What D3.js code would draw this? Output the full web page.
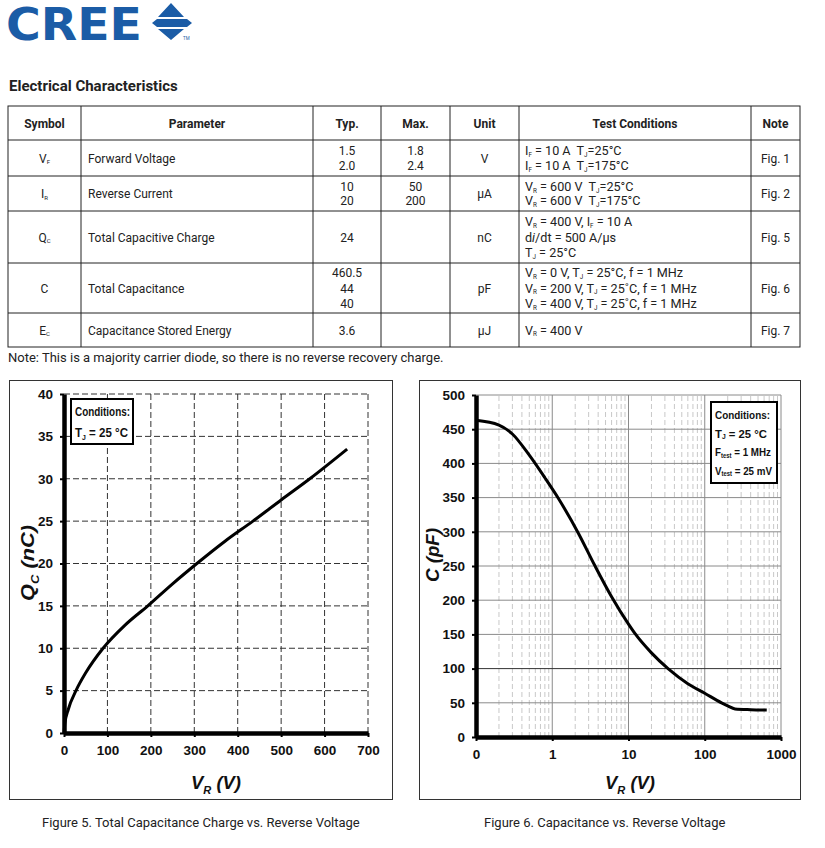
<!DOCTYPE html>
<html><head><meta charset="utf-8">
<script src="https://cdn.jsdelivr.net/npm/d3@7"></script>
<style>
html,body{margin:0;padding:0;background:#fff;}
svg{display:block;}
text{white-space:pre;}
</style></head>
<body>
<svg id="page" width="825" height="848"></svg>
<script>
// ---------------- DATA ----------------
const tableHeaders = ["Symbol","Parameter","Typ.","Max.","Unit","Test Conditions","Note"];
const symbols = ["V{F}","I{R}","Q{C}","C","E{C}"];
const parameters = ["Forward Voltage","Reverse Current","Total Capacitive Charge","Total Capacitance","Capacitance Stored Energy"];
const typValues = [["1.5","2.0"],["10","20"],["24"],["460.5","44","40"],["3.6"]];
const maxValues = [["1.8","2.4"],["50","200"],[],[],[]];
const units = ["V","μA","nC","pF","μJ"];
const conditions = [
  ["I{F} = 10 A  T{J}=25°C","I{F} = 10 A  T{J}=175°C"],
  ["V{R} = 600 V  T{J}=25°C","V{R} = 600 V  T{J}=175°C"],
  ["V{R} = 400 V, I{F} = 10 A","d[i]/dt = 500 A/μs","T{J} = 25°C"],
  ["V{R} = 0 V, T{J} = 25°C, f = 1 MHz","V{R} = 200 V, T{J} = 25˚C, f = 1 MHz","V{R} = 400 V, T{J} = 25˚C, f = 1 MHz"],
  ["V{R} = 400 V"]
];
const notes = ["Fig. 1","Fig. 2","Fig. 5","Fig. 6","Fig. 7"];
const noteText = "Note: This is a majority carrier diode, so there is no reverse recovery charge.";

// Figure 5: Qc vs VR
const qcVoltage = [0, 2, 10, 27.6, 50, 90, 140, 193, 250, 306, 370, 435, 500, 566, 652];
const qcCharge  = [0, 1.1, 2.8, 5, 7.1, 10, 12.7, 15, 17.6, 20, 22.6, 25, 27.5, 30, 33.5];
const qcXTicks = [0,100,200,300,400,500,600,700];
const qcYTicks = [0,5,10,15,20,25,30,35,40];

// Figure 6: C vs VR (log)
const cVoltage = [0.1, 0.2, 0.3, 0.5, 0.8, 1.2, 2.2, 3.6, 6, 10, 12.2, 20, 33, 60, 100, 166, 200, 250, 400, 650];
const cCap     = [463, 456, 443, 412, 379, 349, 298, 251, 205, 165, 151, 123, 100, 78, 64, 50, 45.5, 41, 40, 39.5];
const cXTicks = [0.1, 1, 10, 100, 1000];
const cXTickLabels = ["0","1","10","100","1000"];
const cYTicks = [0,50,100,150,200,250,300,350,400,450,500];

const caption5 = "Figure 5. Total Capacitance Charge vs. Reverse Voltage";
const caption6 = "Figure 6. Capacitance vs. Reverse Voltage";

// ---------------- HELPERS ----------------
const svg = d3.select("#page");
svg.append("rect").attr("width",825).attr("height",848).attr("fill","#fff");

const ROBOTO = "Roboto, 'Noto Sans', sans-serif";
const NARROW = "'Liberation Sans', Arial, sans-serif";

// rich text: X{sub} -> subscript, [x] -> italic
function rich(parent, x, y, str, o) {
  o = o || {};
  const fs = o.size || 12;
  const t = parent.append("text").attr("x", x).attr("y", y)
    .attr("font-family", o.family || ROBOTO).attr("font-size", fs)
    .attr("font-weight", o.weight || "normal")
    .attr("font-style", o.style || "normal")
    .attr("fill", o.fill || "#222")
    .attr("text-anchor", o.anchor || "start");
  if (o.len) t.attr("textLength", o.len).attr("lengthAdjust","spacingAndGlyphs");
  const re = /(\{[^}]*\}|\[[^\]]*\])/g;
  const parts = str.split(re).filter(s => s.length);
  let shifted = 0;
  parts.forEach(p => {
    if (p[0] === "{") {
      const sh = fs*(o.subShift||0.3);
      t.append("tspan").text(p.slice(1,-1)).attr("font-size", fs*(o.subScale||0.55)).attr("dy", sh);
      shifted = sh;
    } else {
      const ts = t.append("tspan").text(p);
      if (shifted) { ts.attr("dy", -shifted); shifted = 0; }
      if (p[0] === "[") { ts.text(p.slice(1,-1)).attr("font-style","italic"); }
    }
  });
  return t;
}

// ---------------- LOGO ----------------
const logoBlue = "#1b5ca6";
svg.append("text").attr("x",6).attr("y",40).text("CREE")
  .attr("font-family","'DejaVu Sans',sans-serif").attr("font-weight","bold")
  .attr("font-size",44).attr("fill",logoBlue)
  .attr("textLength",136).attr("lengthAdjust","spacingAndGlyphs");
svg.append("path").attr("fill",logoBlue)
  .attr("d","M171,3 L184,17 L158,17 Z M152,23 L157,19 L187,19 L192,23 L187,27 L157,27 Z M158,29 L184,29 L171,40 Z");
svg.append("text").attr("x",183).attr("y",40).text("TM").attr("font-size",4.5)
  .attr("font-family",ROBOTO).attr("fill",logoBlue);

// ---------------- TITLE ----------------
svg.append("text").attr("x",9).attr("y",91).text("Electrical Characteristics")
  .attr("font-family",ROBOTO).attr("font-weight","bold").attr("font-size",15).attr("fill","#222");

// ---------------- TABLE ----------------
const colX = [8, 81, 313, 381, 450, 519, 751, 800];
const rowY = [106, 140, 176, 211, 263, 313, 347];
const tbl = svg.append("g");
tbl.append("rect").attr("x",colX[0]).attr("y",rowY[0]).attr("width",colX[7]-colX[0]).attr("height",rowY[6]-rowY[0])
  .attr("fill","none").attr("stroke","#222").attr("stroke-width",1);
colX.slice(1,-1).forEach(x => tbl.append("line").attr("x1",x).attr("x2",x).attr("y1",rowY[0]).attr("y2",rowY[6]).attr("stroke","#222"));
rowY.slice(1,-1).forEach(y => tbl.append("line").attr("x1",colX[0]).attr("x2",colX[7]).attr("y1",y).attr("y2",y).attr("stroke","#222"));

const colCenter = i => (colX[i] + colX[i+1]) / 2;
tableHeaders.forEach((h,i) => {
  tbl.append("text").attr("x",colCenter(i)).attr("y",128).text(h).attr("text-anchor","middle")
    .attr("font-family",ROBOTO).attr("font-weight","bold").attr("font-size",12).attr("fill","#222");
});
function block(lines, cx, cy, anchor, x, size) {
  const n = lines.length;
  const lineH = n > 2 ? 15.3 : 14.5;
  lines.forEach((l, k) => {
    const yy = cy + (k - (n-1)/2) * lineH + 4.5;
    rich(tbl, anchor === "middle" ? cx : x, yy, l, {anchor: anchor, size: size || 12, subScale: 0.5, subShift: 0.15});
  });
}
symbols.forEach((s, r) => {
  const cy = (rowY[r+1] + rowY[r+2]) / 2;
  block([s], colCenter(0), cy, "middle");
  block([parameters[r]], 0, cy, "start", 88);
  block(typValues[r], colCenter(2), cy, "middle");
  if (maxValues[r].length) block(maxValues[r], colCenter(3), cy, "middle");
  block([units[r]], colCenter(4), cy, "middle");
  block(conditions[r], 0, cy, "start", 525, 12.6);
  block([notes[r]], colCenter(6), cy, "middle");
});

svg.append("text").attr("x",8).attr("y",362).text(noteText)
  .attr("font-family",ROBOTO).attr("font-size",13).attr("fill","#222");

function styleAxis(a) {
  a.select(".domain").attr("stroke","#000").attr("stroke-width",4.5);
  a.selectAll(".tick line").attr("stroke","#000").attr("stroke-width",2);
  a.selectAll(".tick text").attr("font-family",NARROW).attr("font-weight","bold").attr("font-size",13.5).attr("fill","#111");
}

// ---------------- FIGURE 5 ----------------
(function(){
  const g = svg.append("g");
  g.append("rect").attr("x",9.5).attr("y",380.5).attr("width",383).attr("height",419)
    .attr("fill","none").attr("stroke","#333").attr("stroke-width",1);
  const x = d3.scaleLinear().domain([0,700]).range([64,368]);
  const y = d3.scaleLinear().domain([0,40]).range([733,394]);
  g.append("g").selectAll("line").data(qcXTicks.slice(1)).join("line")
    .attr("x1",d=>x(d)).attr("x2",d=>x(d)).attr("y1",y(0)).attr("y2",y(40))
    .attr("stroke","#333").attr("stroke-width",1).attr("stroke-dasharray","6,3");
  g.append("g").selectAll("line").data(qcYTicks.slice(1)).join("line")
    .attr("x1",x(0)).attr("x2",x(700)).attr("y1",d=>y(d)).attr("y2",d=>y(d))
    .attr("stroke","#333").attr("stroke-width",1).attr("stroke-dasharray","6,3");
  const ax = g.append("g").attr("transform",`translate(0,${y(0)})`)
    .call(d3.axisBottom(x).tickValues(qcXTicks).tickSize(4).tickSizeOuter(0).tickPadding(8));
  const ay = g.append("g").attr("transform",`translate(${x(0)},0)`)
    .call(d3.axisLeft(y).tickValues(qcYTicks).tickSize(4).tickSizeOuter(0).tickPadding(7));
  styleAxis(ax); styleAxis(ay);
  const pts = qcVoltage.map((v,i)=>[v, qcCharge[i]]);
  g.append("path").datum(pts)
    .attr("d", d3.line().x(d=>x(d[0])).y(d=>y(d[1])).curve(d3.curveMonotoneX))
    .attr("fill","none").attr("stroke","#000").attr("stroke-width",3);
  g.append("rect").attr("x",71).attr("y",399).attr("width",62).attr("height",45)
    .attr("fill","#fff").attr("stroke","#000").attr("stroke-width",2);
  rich(g, 75, 416, "Conditions:", {family:NARROW, weight:"bold", size:12.5, fill:"#111", len:55});
  rich(g, 75, 437, "T{J} = 25 °C", {family:NARROW, weight:"bold", size:12.5, fill:"#111", subScale:0.6, subShift:0.22, len:53});
  rich(g, 216, 789, "V{R} (V)", {family:NARROW, weight:"bold", style:"italic", size:17.5, fill:"#111", anchor:"middle", subScale:0.6, subShift:0.3, len:50});
  const yt = rich(g, 0, 0, "Q{C} (nC)", {family:NARROW, weight:"bold", style:"italic", size:17.5, fill:"#111", anchor:"middle", subScale:0.6, subShift:0.3, len:76});
  yt.attr("transform","translate(34,563) rotate(-90)");
})();

// ---------------- FIGURE 6 ----------------
(function(){
  const g = svg.append("g");
  g.append("rect").attr("x",419.5).attr("y",380.5).attr("width",381).attr("height",419)
    .attr("fill","none").attr("stroke","#333").attr("stroke-width",1);
  const x = d3.scaleLog().domain([0.1,1000]).range([476,781]);
  const y = d3.scaleLinear().domain([0,500]).range([737,395]);
  const minors = [];
  for (let dec = 0.1; dec < 1000; dec *= 10) for (let k = 2; k <= 9; k++) minors.push(+(dec*k).toPrecision(3));
  g.append("g").selectAll("line").data(minors).join("line")
    .attr("x1",d=>x(d)).attr("x2",d=>x(d)).attr("y1",y(0)).attr("y2",y(500))
    .attr("stroke","#c8c8c8").attr("stroke-width",1).attr("stroke-dasharray","5,3");
  g.append("g").selectAll("line").data(cXTicks.slice(1)).join("line")
    .attr("x1",d=>x(d)).attr("x2",d=>x(d)).attr("y1",y(0)).attr("y2",y(500))
    .attr("stroke","#8a8a8a").attr("stroke-width",1);
  g.append("g").selectAll("line").data(cYTicks.slice(1)).join("line")
    .attr("x1",x(0.1)).attr("x2",x(1000)).attr("y1",d=>y(d)).attr("y2",d=>y(d))
    .attr("stroke",d=>d===100?"#333":"#8a8a8a").attr("stroke-width",1);
  const ax = g.append("g").attr("transform",`translate(0,${y(0)})`)
    .call(d3.axisBottom(x).tickValues(cXTicks).tickFormat((d,i)=>cXTickLabels[i]).tickSize(4).tickSizeOuter(0).tickPadding(8));
  const ay = g.append("g").attr("transform",`translate(${x(0.1)},0)`)
    .call(d3.axisLeft(y).tickValues(cYTicks).tickSize(4).tickSizeOuter(0).tickPadding(7));
  styleAxis(ax); styleAxis(ay);
  const pts = cVoltage.map((v,i)=>[v, cCap[i]]);
  g.append("path").datum(pts)
    .attr("d", d3.line().x(d=>x(d[0])).y(d=>y(d[1])).curve(d3.curveMonotoneX))
    .attr("fill","none").attr("stroke","#000").attr("stroke-width",3);
  g.append("rect").attr("x",711).attr("y",402).attr("width",66).attr("height",81)
    .attr("fill","#fff").attr("stroke","#000").attr("stroke-width",2);
  const bo = {family:NARROW, weight:"bold", size:11.5, fill:"#111", subScale:0.6, subShift:0.15};
  rich(g, 715, 419, "Conditions:", Object.assign({}, bo, {len:55}));
  rich(g, 715, 437.5, "T{J} = 25 °C", Object.assign({}, bo, {len:52}));
  rich(g, 715, 456, "F{test} = 1 MHz", Object.assign({}, bo, {len:56}));
  rich(g, 715, 474.5, "V{test} = 25 mV", Object.assign({}, bo, {len:57}));
  rich(g, 630, 789, "V{R} (V)", {family:NARROW, weight:"bold", style:"italic", size:17.5, fill:"#111", anchor:"middle", subScale:0.6, subShift:0.3, len:50});
  const yt = rich(g, 0, 0, "C (pF)", {family:NARROW, weight:"bold", style:"italic", size:17.5, fill:"#111", anchor:"middle", len:54});
  yt.attr("transform","translate(439,555) rotate(-90)");
})();

// ---------------- CAPTIONS ----------------
svg.append("text").attr("x",42).attr("y",827).text(caption5)
  .attr("font-family",ROBOTO).attr("font-size",13).attr("fill","#222");
svg.append("text").attr("x",484).attr("y",827).text(caption6)
  .attr("font-family",ROBOTO).attr("font-size",13).attr("fill","#222");
</script>
</body></html>
